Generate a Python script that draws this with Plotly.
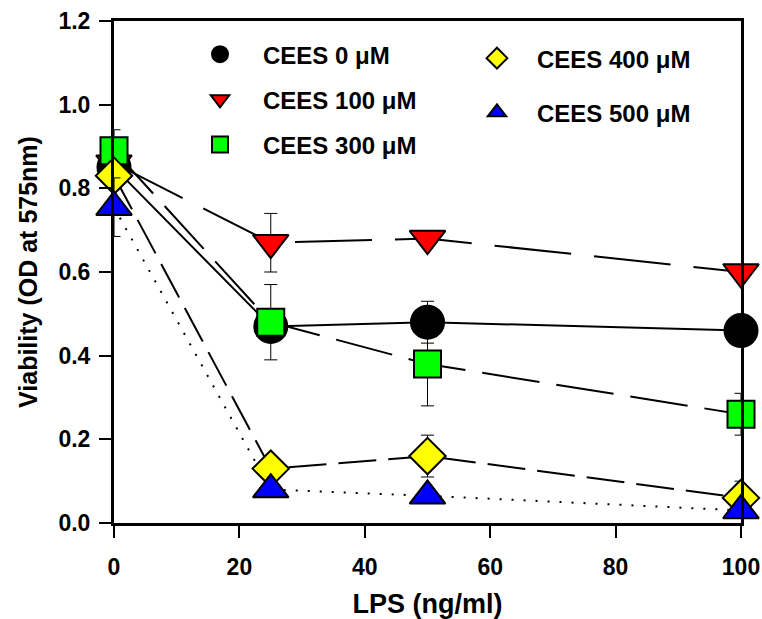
import plotly.graph_objects as go

# ---- data ----
lps = [0, 25, 50, 100]
series_names = ["CEES 0 μM", "CEES 100 μM", "CEES 300 μM", "CEES 400 μM", "CEES 500 μM"]
cees0 = [0.85, 0.47, 0.48, 0.46]
cees0_err = [0.05, 0.03, 0.05, 0.02]
cees100 = [0.86, 0.67, 0.68, 0.60]
cees100_err = [0.03, 0.07, 0.01, 0.01]
cees300 = [0.89, 0.48, 0.38, 0.26]
cees300_err = [0.05, 0.09, 0.10, 0.05]
cees400 = [0.83, 0.13, 0.16, 0.06]
cees400_err = [0.02, 0.02, 0.05, 0.04]
cees500 = [0.755, 0.08, 0.065, 0.03]
cees500_err = [0.07, 0.01, 0.01, 0.01]
x_ticks = [0, 20, 40, 60, 80, 100]
y_ticks = [0.0, 0.2, 0.4, 0.6, 0.8, 1.0, 1.2]
y_tick_labels = ["0.0", "0.2", "0.4", "0.6", "0.8", "1.0", "1.2"]

values = [cees0, cees100, cees300, cees400, cees500]
errors = [cees0_err, cees100_err, cees300_err, cees400_err, cees500_err]

# ---- styles ----
symbols = ["circle", "triangle-down", "square", "diamond", "triangle-up"]
sizes = [33, 31, 27, 28, 31]
fills = ["#000000", "#ff0000", "#00ff00", "#ffff00", "#0000ff"]
dashes = ["solid", "77px,23px", "58px,17px", "38px,12px", "2px,10px"]
legends = ["legend", "legend", "legend", "legend2", "legend2"]

FONT = "Liberation Sans, Arial, Helvetica, sans-serif"

fig = go.Figure()

for v, d in zip(values, dashes):
    fig.add_trace(go.Scatter(
        x=lps, y=v, mode="lines",
        line=dict(color="black", width=2, dash=d),
        showlegend=False, hoverinfo="skip",
    ))

for i, (name, v, e) in enumerate(zip(series_names, values, errors)):
    fig.add_trace(go.Scatter(
        x=lps, y=v, mode="markers", name=name,
        legend=legends[i], legendgroup=name,
        marker=dict(symbol=symbols[i], size=sizes[i], color=fills[i],
                    line=dict(color="black", width=2)),
        error_y=dict(type="data", array=e, visible=True,
                     color="black", thickness=1, width=6.5),
        cliponaxis=False,
    ))

fig.update_layout(
    width=762, height=619,
    margin=dict(l=114, r=21, t=21, b=96),
    paper_bgcolor="white", plot_bgcolor="white",
    font=dict(family=FONT, size=22, color="black", weight="bold"),
    legend=dict(x=0.1005, y=0.978, xanchor="left", yanchor="top",
                bgcolor="rgba(0,0,0,0)", tracegroupgap=11, itemwidth=76,
                font=dict(size=24, family=FONT, weight="bold"),
                itemsizing="trace"),
    legend2=dict(x=0.547, y=0.97, xanchor="left", yanchor="top",
                 bgcolor="rgba(0,0,0,0)", tracegroupgap=20, itemwidth=70,
                 font=dict(size=24, family=FONT, weight="bold"),
                 itemsizing="trace"),
    xaxis=dict(
        range=[0, 100], tickmode="array", tickvals=x_ticks,
        ticks="outside", ticklen=12, tickwidth=1.5, tickcolor="black",
        showline=True, linewidth=3, linecolor="black", mirror=True,
        showgrid=False, zeroline=False, automargin=False,
        tickfont=dict(size=23, family=FONT, weight="bold"),
        ticklabelstandoff=9,
        title=dict(text="LPS (ng/ml)", standoff=24,
                   font=dict(size=27, family=FONT, weight="bold")),
    ),
    yaxis=dict(
        range=[0, 1.2], tickmode="array", tickvals=y_ticks, ticktext=y_tick_labels,
        ticks="outside", ticklen=12, tickwidth=1.5, tickcolor="black",
        showline=True, linewidth=3, linecolor="black", mirror=True,
        showgrid=False, zeroline=False, automargin=False,
        tickfont=dict(size=23, family=FONT, weight="bold"),
        ticklabelstandoff=4,
        title=dict(text="Viability (OD at 575nm)", standoff=14,
                   font=dict(size=25, family=FONT, weight="bold")),
    ),
)

# remove the default page margin so the 762x619 figure fills the window exactly
fig.write_html("out.html", config={"displayModeBar": False},
               post_script="document.body.style.margin='0';")
